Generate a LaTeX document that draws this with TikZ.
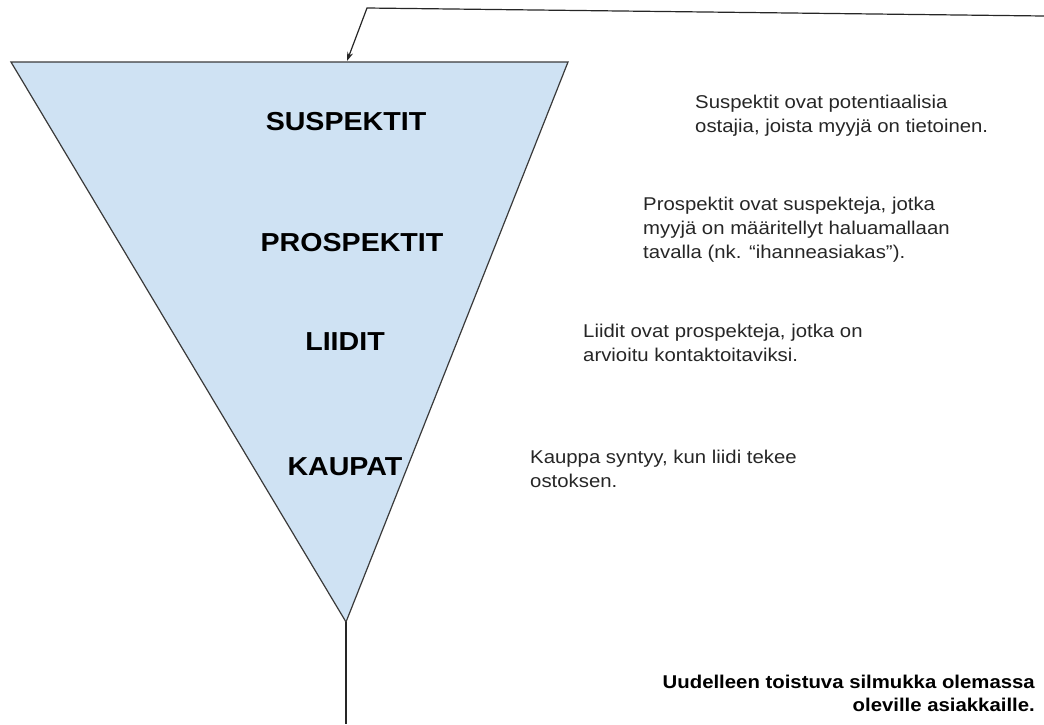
\documentclass[tikz,border=0pt]{standalone}
\usepackage{fontspec}
\usetikzlibrary{arrows.meta}
\setmainfont{Liberation Sans}
\newfontfamily\headfont[FakeStretch=1.1]{Liberation Sans}
\newfontfamily\notefont[FakeStretch=1.1]{Liberation Sans}
\definecolor{funnelfill}{HTML}{CFE2F3}
\definecolor{funneledge}{HTML}{3A3A3A}
\tikzset{
  stage/.style={anchor=base, inner sep=0pt, font=\headfont\bfseries\fontsize{26}{30}\selectfont},
  note/.style={anchor=north west, inner sep=0pt, align=left, text=black!85,
    font=\notefont\fontsize{18.5}{24}\selectfont},
  loopnote/.style={anchor=north east, inner sep=0pt, align=right,
    font=\notefont\bfseries\fontsize{18.5}{23.5}\selectfont},
  wire/.style={line width=1.2pt, draw=black!85},
}
\begin{document}
\begin{tikzpicture}[x=1pt,y=-1pt]
\useasboundingbox (0,0) rectangle (1044,724);

% funnel corners
\coordinate (tl) at (11,62);
\coordinate (tr) at (568,62);
\coordinate (apex) at (346,622);
\draw[fill=funnelfill, draw=funneledge, line width=1.2pt, line join=miter]
  (tl) -- (tr) -- (apex) -- cycle;

% stage labels inside the funnel
\node[stage] (suspektit) at (346,130) {SUSPEKTIT};
\node[stage] (prospektit) at (352,251) {PROSPEKTIT};
\node[stage] (liidit) at (345,350) {LIIDIT};
\node[stage] (kaupat) at (345,475) {KAUPAT};

% explanations
\node[note] (n1) at (695,94.5) {Suspektit ovat potentiaalisia\\ostajia, joista myyjä on tietoinen.};
\node[note] (n2) at (643,197) {Prospektit ovat suspekteja, jotka\\myyjä on määritellyt haluamallaan\\tavalla (nk. “ihanneasiakas”).};
\node[note] (n3) at (583,323.5) {Liidit ovat prospekteja, jotka on\\arvioitu kontaktoitaviksi.};
\node[note] (n4) at (530,449.5) {Kauppa syntyy, kun liidi tekee\\ostoksen.};

\node[loopnote] (loop) at (1035,674.5) {Uudelleen toistuva silmukka olemassa\\oleville asiakkaille.};

% feedback loop: out of the apex, back in at the top
\coordinate (down) at (346,724);
\draw[wire] (apex) -- (down);
\coordinate (edge) at (1044,16);
\coordinate (bend) at (367,8);
\coordinate (entry) at (347,61);
\draw[wire, -{Stealth[length=9pt,width=6pt]}] (edge) -- (bend) -- (entry);
\end{tikzpicture}
\end{document}
